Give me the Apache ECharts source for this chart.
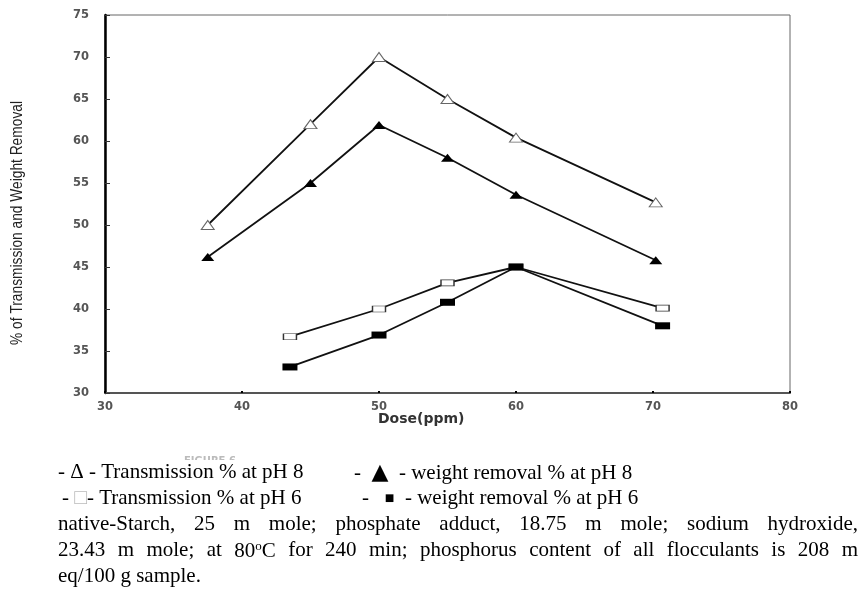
<!DOCTYPE html>
<html>
<head>
<meta charset="utf-8">
<script src="https://cdn.jsdelivr.net/npm/echarts@6/dist/echarts.min.js"></script>
<style>
  html, body { margin: 0; padding: 0; background: #fff; }
  #main { width: 863px; height: 598px; }
</style>
</head>
<body>
<div id="main"></div>
<script>
// dose values (ppm)
var doseTri = [37.5, 45, 50, 55, 60, 70.2];
var doseSq = [43.5, 50, 55, 60, 70.7];
// % values
var transPH8 = [50, 62, 70, 65, 60.4, 52.7];
var weightPH8 = [46.2, 55, 61.9, 58, 53.6, 45.8];
var transPH6 = [36.7, 40, 43.1, 45, 40.1];
var weightPH6 = [33.1, 36.9, 40.8, 45, 38];

var xTicks = [30, 40, 50, 60, 70, 80];
var yTicks = [30, 35, 40, 45, 50, 55, 60, 65, 70, 75];

function pairs(xs, ys) {
  return xs.map(function (x, i) { return [x, ys[i]]; });
}

var serif = '"Liberation Serif", "Times New Roman", serif';
var capFont = 21;
var richStyles = {
  box: { font: capFont + 'px ' + serif, fill: '#bbb' },
  sup: { font: '13px ' + serif, fill: '#000', verticalAlign: 'top', padding: [0, 0, 9, 0] },
  tri: { font: '22px "DejaVu Sans"', fill: '#000' },
  s: { font: '16px ' + serif, fill: '#000' }
};

// measuring width of a word (rich markup stripped, sup counted small)
var ctx = document.createElement('canvas').getContext('2d');
function wordWidth(w) {
  var sup = 0;
  var plain = w.replace(/\{sup\|([^}]*)\}/g, function (m, t) {
    ctx.font = '13px ' + serif; sup += ctx.measureText(t).width; return '';
  });
  ctx.font = capFont + 'px ' + serif;
  return ctx.measureText(plain).width + sup;
}

function capText(x, y, text) {
  return {
    type: 'text', left: x, top: y,
    style: { text: text, font: capFont + 'px ' + serif, fill: '#000', rich: richStyles }
  };
}

// lay words across a fixed width (justified line)
function justified(text, x0, width, y) {
  var words = text.split(' ');
  var total = 0;
  words.forEach(function (w) { total += wordWidth(w); });
  var gap = (width - total) / (words.length - 1);
  var x = x0, out = [];
  words.forEach(function (w) {
    out.push(capText(x, y, w));
    x += wordWidth(w) + gap;
  });
  return out;
}

var graphics = [
  // faint label mostly hidden behind the caption
  {
    type: 'text', left: 184, top: 456,
    style: { text: 'FIGURE 6', font: 'bold 10px "DejaVu Sans"', fill: '#bbb' }
  },
  { type: 'rect', shape: { x: 150, y: 460, width: 130, height: 14 }, style: { fill: '#fff' } },
  {
    type: 'text', left: 378, top: 412,
    style: { text: 'Dose(ppm)', font: 'bold 14px "DejaVu Sans"', fill: '#333' }
  },
  {
    type: 'text', x: 18, y: 223, rotation: Math.PI / 2, scaleX: 0.86,
    style: {
      text: '% of Transmission and Weight Removal', font: '16px "Liberation Sans"',
      fill: '#222', align: 'center', verticalAlign: 'middle'
    }
  },
  capText(58, 462, '- Δ - Transmission % at pH 8'),
  capText(354, 462, '-  {tri|▲}  - weight removal % at pH 8'),
  capText(62, 488, '- {box|□}- Transmission % at pH 6'),
  capText(362, 488, '-   {s|■}  - weight removal % at pH 6')
];
graphics = graphics.concat(justified('native-Starch, 25 m mole; phosphate adduct, 18.75 m mole; sodium hydroxide,', 58, 800, 514));
graphics = graphics.concat(justified('23.43 m mole; at 80{sup|o}C for 240 min; phosphorus content of all flocculants is 208 m', 58, 800, 540));
graphics.push(capText(58, 566, 'eq/100 g sample.'));

var tickFont = { fontFamily: 'DejaVu Sans', fontWeight: 'bold', fontSize: 11.5, color: '#555' };

var option = {
  backgroundColor: '#fff',
  animation: false,
  grid: {
    left: 105, right: 73, top: 15, bottom: 205,
    show: true, borderColor: '#666', borderWidth: 1
  },
  xAxis: {
    type: 'value', min: 30, max: 80, interval: 10,
    axisLine: { lineStyle: { color: '#555', width: 2 } },
    axisTick: { inside: true, length: 2, lineStyle: { color: '#000', width: 2 } },
    splitLine: { show: false },
    axisLabel: Object.assign({ margin: 8 }, tickFont)
  },
  yAxis: {
    type: 'value', min: 30, max: 75, interval: 5,
    axisLine: { show: true, lineStyle: { color: '#000', width: 2.5 } },
    axisTick: { inside: true, length: 5, lineStyle: { color: '#333', width: 1 } },
    splitLine: { show: false },
    axisLabel: Object.assign({ margin: 16 }, tickFont)
  },
  series: [
    {
      name: 'Transmission % at pH 8', type: 'line', data: pairs(doseTri, transPH8),
      symbol: 'triangle', symbolSize: [13, 9],
      itemStyle: { color: '#fff', borderColor: '#666', borderWidth: 1 },
      lineStyle: { color: '#111', width: 1.8 }
    },
    {
      name: 'weight removal % at pH 8', type: 'line', data: pairs(doseTri, weightPH8),
      symbol: 'triangle', symbolSize: [13, 8],
      itemStyle: { color: '#000', borderWidth: 0 },
      lineStyle: { color: '#111', width: 1.8 }
    },
    {
      name: 'Transmission % at pH 6', type: 'line', data: pairs(doseSq, transPH6),
      symbol: 'rect', symbolSize: [13, 6],
      itemStyle: { color: '#fff', borderColor: '#333', borderWidth: 1 },
      lineStyle: { color: '#111', width: 1.8 }
    },
    {
      name: 'weight removal % at pH 6', type: 'line', data: pairs(doseSq, weightPH6),
      symbol: 'rect', symbolSize: [15, 7],
      itemStyle: { color: '#000', borderWidth: 0 },
      lineStyle: { color: '#111', width: 1.8 }
    }
  ],
  graphic: graphics
};

echarts.init(document.getElementById('main')).setOption(option);
</script>
</body>
</html>
